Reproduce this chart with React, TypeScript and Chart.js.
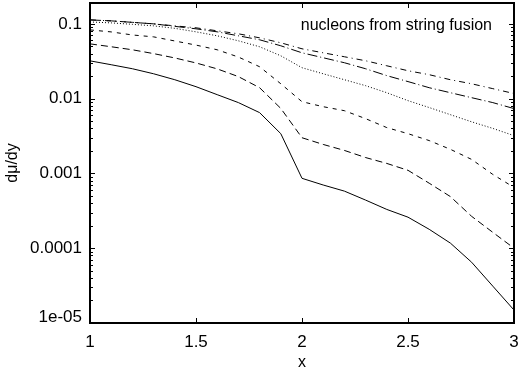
import React, { useEffect, useRef } from "react";
import { Chart, registerables } from "chart.js";
Chart.register(...registerables);

const xValues = [1.0, 1.1, 1.2, 1.3, 1.4, 1.5, 1.6, 1.7, 1.8, 1.9, 2.0, 2.1, 2.2, 2.3, 2.4, 2.5, 2.6, 2.7, 2.8, 2.9, 3.0];
const seriesSolid = [0.032, 0.0284, 0.0251, 0.0215, 0.0179, 0.01445, 0.0113, 0.00885, 0.0065, 0.0034, 0.00086, 0.0007, 0.00058, 0.00044, 0.00033, 0.00026, 0.000179, 0.000117, 0.000065, 0.0000311, 0.0000149];
const seriesLongDash = [0.054, 0.0494, 0.045, 0.04, 0.035, 0.03, 0.025, 0.0197, 0.014, 0.0074, 0.003, 0.00244, 0.00203, 0.00163, 0.00136, 0.0011, 0.00074, 0.00049, 0.000267, 0.000163, 0.0001];
const seriesShortDash = [0.083, 0.078, 0.071, 0.067, 0.059, 0.052, 0.045, 0.036, 0.0267, 0.0158, 0.0091, 0.0078, 0.0069, 0.0054, 0.0041, 0.0034, 0.00275, 0.0021, 0.00154, 0.00097, 0.00065];
const seriesDotted = [0.106, 0.103, 0.0985, 0.094, 0.0871, 0.0782, 0.0692, 0.0593, 0.0494, 0.0374, 0.0259, 0.0215, 0.0179, 0.0149, 0.012, 0.0094, 0.0076, 0.0061, 0.0049, 0.004, 0.0032];
const seriesLongDashDot = [0.113, 0.1096, 0.1047, 0.1, 0.0926, 0.0858, 0.0782, 0.0692, 0.0612, 0.0509, 0.041, 0.0352, 0.0302, 0.0251, 0.0203, 0.0169, 0.014, 0.012, 0.0103, 0.00885, 0.00736];
const seriesDashDot = [0.113, 0.1096, 0.1047, 0.1, 0.094, 0.0885, 0.0807, 0.0736, 0.065, 0.0558, 0.0464, 0.041, 0.0363, 0.0321, 0.0275, 0.0236, 0.0209, 0.0179, 0.0158, 0.0136, 0.0117];

const xTicks = [1, 1.5, 2, 2.5, 3];
const xTickLabels = ["1", "1.5", "2", "2.5", "3"];
const yTicks = [1e-5, 1e-4, 1e-3, 1e-2, 1e-1];
const yTickLabels = ["1e-05", "0.0001", "0.001", "0.01", "0.1"];
const keyTitle = "nucleons from string fusion";
const xTitle = "x";
const yTitle = "dμ/dy";

const FONT = "'Liberation Sans', Arial, Helvetica, sans-serif";

const framePlugin = {
  id: "gnuplotFrame",
  afterDraw(chart: any) {
    const ctx = chart.ctx;
    const { left, right, top, bottom } = chart.chartArea;
    const xs = chart.scales.x;
    const ys = chart.scales.y;
    ctx.save();
    ctx.strokeStyle = "#000";
    ctx.fillStyle = "#000";
    ctx.lineWidth = 1;
    // ticks x
    ctx.beginPath();
    xTicks.forEach((t) => {
      const px = Math.round(xs.getPixelForValue(t)) + 0.5;
      ctx.moveTo(px, bottom);
      ctx.lineTo(px, bottom - 5);
      ctx.moveTo(px, top);
      ctx.lineTo(px, top + 5);
    });
    // ticks y major + minor
    for (let d = -5; d <= -1; d++) {
      for (let k = 1; k <= 9; k++) {
        const v = k * Math.pow(10, d);
        if (v > ys.max || v < ys.min) continue;
        const py = Math.round(ys.getPixelForValue(v)) + 0.5;
        const len = k === 1 ? 5 : 3;
        ctx.moveTo(left, py);
        ctx.lineTo(left + len, py);
        ctx.moveTo(right, py);
        ctx.lineTo(right - len, py);
      }
    }
    ctx.stroke();
    // frame
    ctx.lineWidth = 2;
    ctx.strokeRect(left, top, right - left, bottom - top);

    // labels
    ctx.font = "17px " + FONT;
    ctx.textAlign = "center";
    ctx.textBaseline = "middle";
    xTicks.forEach((t, i) => {
      ctx.fillText(xTickLabels[i], xs.getPixelForValue(t), bottom + 19);
    });
    ctx.textAlign = "right";
    yTicks.forEach((t, i) => {
      let py = ys.getPixelForValue(t);
      py = Math.min(Math.max(py, top + 10), bottom - 6);
      ctx.fillText(yTickLabels[i], left - 8, py);
    });
    // axis titles
    ctx.font = "16px " + FONT;
    ctx.textAlign = "center";
    ctx.fillText(xTitle, (left + right) / 2, bottom + 40);
    ctx.save();
    ctx.translate(13, (top + bottom) / 2);
    ctx.rotate(-Math.PI / 2);
    ctx.fillText(yTitle, 0, 0);
    ctx.restore();
    // key title
    ctx.textAlign = "right";
    ctx.fillText(keyTitle, right - 22, top + 23);
    ctx.restore();
  },
};

export default function App() {
  const ref = useRef<HTMLCanvasElement | null>(null);
  useEffect(() => {
    if (!ref.current) return;
    const mk = (vals: number[], dash: number[]) => ({
      data: xValues.map((x, i) => ({ x, y: vals[i] })),
      borderColor: "#000",
      borderWidth: 1,
      borderDash: dash,
      pointRadius: 0,
      tension: 0,
      fill: false,
    });
    const chart = new Chart(ref.current, {
      type: "line",
      data: {
        datasets: [
          mk(seriesSolid, []),
          mk(seriesLongDash, [7, 4]),
          mk(seriesShortDash, [4, 5]),
          mk(seriesDotted, [1, 2]),
          mk(seriesLongDashDot, [10, 3, 1, 3]),
          mk(seriesDashDot, [6, 4, 1, 4]),
        ],
      },
      options: {
        animation: false,
        responsive: false,
        devicePixelRatio: 1,
        layout: { padding: { left: 0, right: 14, top: 3, bottom: 0 } },
        plugins: { legend: { display: false }, tooltip: { enabled: false } },
        scales: {
          x: {
            type: "linear",
            min: 1,
            max: 3,
            grid: { display: false },
            border: { display: false },
            ticks: { display: false },
            afterFit: (s: any) => {
              s.height = 50;
            },
          },
          y: {
            type: "logarithmic",
            min: 1e-5,
            max: 0.19,
            grid: { display: false },
            border: { display: false },
            ticks: { display: false },
            afterFit: (s: any) => {
              s.width = 90;
            },
          },
        },
      },
      plugins: [framePlugin],
    } as any);
    return () => chart.destroy();
  }, []);
  return (
    <div style={{ position: "absolute", left: 0, top: 0, width: 528, height: 373, background: "#fff" }}>
      <canvas ref={ref} width={528} height={373} style={{ display: "block" }} />
    </div>
  );
}
